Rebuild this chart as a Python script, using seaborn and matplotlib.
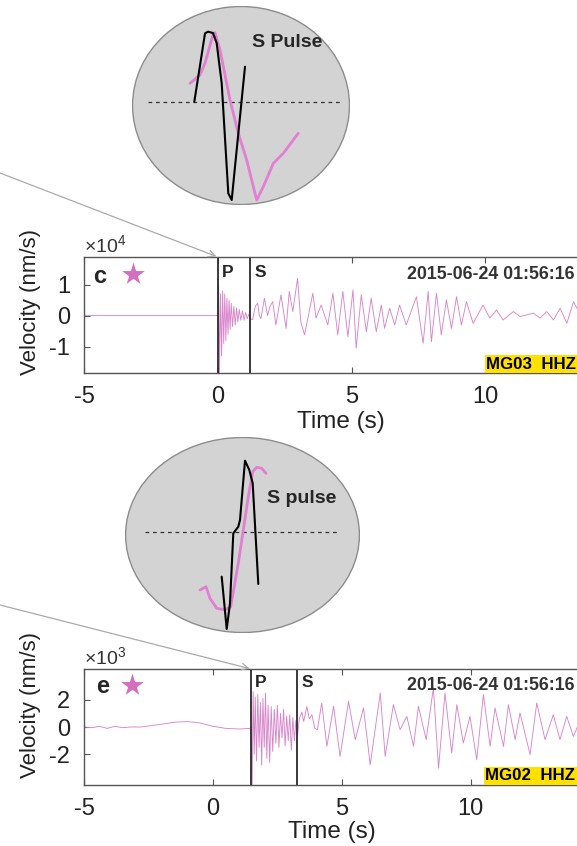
import pandas as pd
import seaborn as sns
import matplotlib.pyplot as plt
from matplotlib.patches import Ellipse

# ---- waveform extrema ----------------------------------------------------
# panel c, MG03 HHZ, velocity in units of 1e4 nm/s
c_time = [-5.0, -3.0, -1.0, -0.02,
          0.0, 0.03, 0.06, 0.1, 0.14, 0.18, 0.22, 0.26, 0.3, 0.34, 0.38, 0.42,
          0.46, 0.5, 0.55, 0.6, 0.65, 0.7, 0.75, 0.8, 0.86, 0.92, 0.98, 1.04,
          1.1, 1.16,
          1.22, 1.3, 1.4, 1.49, 1.55, 1.61, 1.74, 1.86, 1.95, 2.05, 2.17, 2.36,
          2.55, 2.67, 2.8, 2.98, 3.1, 3.24, 3.55, 3.67, 3.86, 4.11, 4.30, 4.48,
          4.67, 4.86, 5.05, 5.17, 5.36, 5.55, 5.73, 5.92, 6.11, 6.23, 6.42,
          6.61, 6.79, 7.04, 7.42, 7.67, 7.86, 7.98, 8.17, 8.35, 8.54, 8.73,
          8.92, 9.10, 9.29, 9.54, 9.91, 10.16, 10.41, 10.66, 11.04, 11.29,
          11.79, 12.04, 12.29, 12.54, 12.79, 13.04, 13.29, 13.5]
c_vel = [0.0, 0.0, 0.0, 0.0,
         0.0, 1.0, -1.9, 0.7, -1.3, 0.8, -0.9, 0.7, -0.8, 0.55, -0.6, 0.5,
         -0.45, 0.4, -0.35, 0.3, -0.3, 0.25, -0.2, 0.2, -0.15, 0.15, -0.15, 0.1,
         -0.1, 0.05,
         -0.1, -0.13, 0.3, 0.4, 0.0, -0.1, 0.56, 0.0, 0.3, 0.45, -0.3, 0.67,
         -0.41, 0.78, 0.13, 1.2, -0.2, -0.62, 0.72, -0.08, 0.34, -0.3, 0.72, -0.62,
         0.78, -0.68, 0.83, -1.05, 0.67, -0.52, 0.56, -0.52, 0.34, -0.41, 0.24,
         -0.3, 0.34, -0.3, 0.61, -0.89, 0.78, -0.84, 0.72, -0.62, 0.51, -0.41,
         0.61, -0.3, 0.45, -0.25, 0.34, -0.08, 0.18, -0.14, 0.13, -0.03,
         0.08, -0.08, 0.13, -0.14, 0.24, -0.25, 0.45, 0.1]

# panel e, MG02 HHZ, velocity in units of 1e3 nm/s
e_time = [-5.0, -4.7, -4.4, -4.1, -3.8, -3.5, -3.2, -2.8, -2.4, -2.0, -1.5,
          -1.0, -0.5, 0.0, 0.5, 1.0, 1.45,
          1.48, 1.52, 1.56, 1.6, 1.64, 1.69, 1.74, 1.79, 1.84, 1.89, 1.94, 1.99,
          2.04, 2.09, 2.14, 2.2, 2.26, 2.32, 2.38, 2.44, 2.5, 2.56, 2.62, 2.68,
          2.74, 2.8, 2.86, 2.92, 2.98, 3.04, 3.1, 3.16, 3.22, 3.28,
          3.35, 3.45, 3.52, 3.64, 3.74, 3.84, 3.95, 4.05, 4.22, 4.42, 4.68, 4.93,
          5.26, 5.52, 5.84, 6.1, 6.49, 6.68, 7.0, 7.26, 7.52, 7.78, 7.97, 8.27,
          8.55, 8.75, 9.0, 9.26, 9.46, 9.71, 9.97, 10.23, 10.49, 10.75, 10.94,
          11.27, 11.46, 11.72, 11.91, 12.3, 12.56, 12.88, 13.2, 13.46, 13.72,
          13.98, 14.2]
e_vel = [0.0, -0.05, 0.05, -0.1, 0.05, -0.05, 0.0, 0.0, 0.1, 0.2, 0.35,
         0.4, 0.3, 0.05, -0.1, -0.15, -0.1,
         0.0, -4.5, 2.6, -2.0, 2.2, -2.5, 2.4, -1.5, 1.8, -2.8, 2.1, -1.5,
         2.5, -2.3, 1.6, -2.6, 1.5, -1.8, 1.3, -1.2, 1.6, -1.5, 1.0, -0.8,
         1.3, -1.4, 0.8, -1.0, 0.9, -1.7, 0.7, -1.0, 0.5, -0.6,
         0.6, 1.1, 0.4, 1.5, 0.6, 0.9, -0.1, -0.2, 1.77, -1.42, 1.52, -2.16,
         1.89, -0.93, 1.4, -2.77, 2.5, -2.16, 1.64, -0.2, 0.78, -1.42, 1.52, -0.93,
         2.87, -3.02, 2.5, -1.91, 1.64, -1.18, 0.78, -2.4, 2.38, -1.42, 1.4,
         -1.42, 1.64, -0.93, 1.03, -2.03, 1.77, -0.93, 0.9, -0.93, 0.78,
         -0.69, 0.3]

c_picks = [0.0, 1.22]   # P, S
e_picks = [1.48, 3.28]

# ---- S pulse close-ups (normalised time / amplitude) ----------------------
top_black_t = [-0.467, -0.417, -0.36, -0.33, -0.28, -0.243, -0.193, -0.143,
               -0.127, -0.093, -0.06, -0.01, 0.04]
top_black_v = [0.0, 0.317, 0.684, 0.70, 0.687, 0.584, 0.184, -0.65,
               -0.916, -0.983, -0.65, -0.15, 0.35]
top_pink_t = [-0.51, -0.41, -0.36, -0.277, -0.26, -0.21, -0.11, -0.027,
              0.057, 0.157, 0.223, 0.323, 0.423, 0.573]
top_pink_v = [0.184, 0.267, 0.384, 0.684, 0.69, 0.517, 0.017, -0.316,
              -0.583, -0.983, -0.85, -0.616, -0.516, -0.316]

bot_black_t = [-0.208, -0.158, -0.125, -0.092, -0.042, -0.025, 0.025, 0.068,
               0.102, 0.158]
bot_black_v = [-0.45, -0.973, -0.716, -0.016, 0.05, 0.117, 0.71, 0.617,
               0.484, -0.523]
bot_pink_t = [-0.425, -0.365, -0.325, -0.258, -0.175, -0.118, -0.042, 0.008,
              0.058, 0.102, 0.142, 0.192, 0.235]
bot_pink_v = [-0.583, -0.55, -0.666, -0.766, -0.783, -0.75, -0.316, 0.017,
              0.35, 0.6, 0.644, 0.634, 0.584]

trace_col = '#d985cb'
star_col = '#d46fc0'
pulse_col = '#e27fd3'
spine_col = '#555555'

sns.set_theme(style='ticks')
plt.rcParams['font.family'] = ['Liberation Sans', 'DejaVu Sans']
plt.rcParams['axes.unicode_minus'] = False
plt.rcParams['mathtext.fontset'] = 'custom'
plt.rcParams['mathtext.rm'] = 'Liberation Sans'

W, H = 577, 846
fig = plt.figure(figsize=(W / 100, H / 100), dpi=100)


def px_axes(x0, y0, x1, y1):
    return fig.add_axes([x0 / W, 1 - y1 / H, (x1 - x0) / W, (y1 - y0) / H])


def seismo(ax, t, v, power, picks, xmax, ylim, yticks, letter, station,
           ylab_y, src_y, tag_pos):
    df = pd.DataFrame({'t': t, 'v': v})
    sns.lineplot(data=df, x='t', y='v', ax=ax, color=trace_col, lw=0.65,
                 estimator=None, sort=False)
    for p in picks:
        ax.axvline(p, color='#2a2a2a', lw=1.3)
    ax.set_xlim(-5, xmax)
    ax.set_ylim(*ylim)
    ax.set_xticks([-5, 0, 5, 10])
    ax.set_yticks(yticks)
    ax.text(0.0, 1.01, r'$\times\mathregular{10^{%d}}$' % power,
            transform=ax.transAxes, ha='left', va='bottom', fontsize=14,
            color='#333333')
    for s in ['left', 'top', 'bottom']:
        ax.spines[s].set_color(spine_col)
        ax.spines[s].set_linewidth(1.0)
    ax.spines['right'].set_visible(False)
    ax.tick_params(direction='in', length=4, width=0.8, color=spine_col,
                   labelsize=17, labelcolor='#222222', top=True)
    ax.tick_params(axis='x', pad=9)
    ax.tick_params(axis='y', pad=10)
    ax.set_xlabel('Time (s)', fontsize=17.5, color='#222222')
    ax.set_ylabel('Velocity (nm/s)', fontsize=16, color='#222222')
    ax.xaxis.set_label_coords(tag_pos[0], tag_pos[1])
    ax.yaxis.set_label_coords(-0.088, ylab_y)

    ax.text(letter[1], letter[2], letter[0], transform=ax.transAxes,
            fontsize=17, fontweight='bold', ha='center', va='center')
    ax.plot([letter[3]], [letter[4]], marker='*', ms=20, color=star_col,
            mec='white', mew=0.8, transform=ax.transAxes, clip_on=False)
    for p, lab in zip(picks, ['P', 'S']):
        ax.annotate(lab, xy=(p, letter[5]), xycoords=('data', 'axes fraction'),
                    xytext=(3, 0), textcoords='offset points', fontsize=12.5,
                    fontweight='bold', ha='left', va='center')
    ax.text(0.655, letter[5] - 0.02, '2015-06-24 01:56:16',
            transform=ax.transAxes, fontsize=12.8, fontweight='bold',
            color='#333333', ha='left', va='center')
    ax.text(station[1], station[2], station[0], transform=ax.transAxes,
            fontsize=12.2, fontweight='bold', color='black', ha='left',
            va='center', bbox=dict(boxstyle='square,pad=0.1', fc='#ffe100',
                                   ec='none'))
    ax.annotate('', xy=(picks[0], ylim[1]), xycoords='data',
                xytext=(0, 1 - src_y / H), textcoords='figure fraction',
                arrowprops=dict(arrowstyle='->', color='#aaaaaa', lw=0.9,
                                shrinkA=0, shrinkB=1),
                annotation_clip=False)


ax_c = px_axes(84, 257, 577, 373)
seismo(ax_c, c_time, c_vel, 4, c_picks, 13.42, (-1.85, 1.89), [-1, 0, 1],
       ('c', 0.031, 0.828, 0.0994, 0.853, 0.87), ('MG03  HHZ', 0.816, 0.075),
       0.612, 173, (0.522, -0.33))

ax_e = px_axes(84, 669, 577, 785)
seismo(ax_e, e_time, e_vel, 3, e_picks, 14.12, (-4.26, 4.26), [-2, 0, 2],
       ('e', 0.0385, 0.845, 0.0968, 0.862, 0.882), ('MG02  HHZ', 0.814, 0.078),
       0.69, 605, (0.503, -0.31))


def pulse_inset(box, xlim, ylim, dash, bt, bv, pt, pv, label, lab_xy):
    ax = px_axes(*box)
    ax.set_axis_off()
    ax.add_patch(Ellipse((0.5, 0.5), 0.995, 0.995, transform=ax.transAxes,
                         fc='#d3d3d3', ec='#8c8c8c', lw=1.0))
    ax.plot(dash, [0, 0], color='#333333', lw=0.9, ls=(0, (3, 3)))
    sns.lineplot(x=pt, y=pv, ax=ax, color=pulse_col, lw=2.0, estimator=None,
                 sort=False)
    sns.lineplot(x=bt, y=bv, ax=ax, color='black', lw=1.5, estimator=None,
                 sort=False)
    ax.set_xlim(*xlim)
    ax.set_ylim(*ylim)
    ax.text(lab_xy[0], lab_xy[1], label, fontsize=14, fontweight='bold',
            ha='left', va='center')


pulse_inset((132, 6, 350, 205), (-1.09, 1.09), (-1.033, 0.957), [-0.93, 0.99],
            top_black_t, top_black_v, top_pink_t, top_pink_v, 'S Pulse',
            (0.11, 0.587))
pulse_inset((125, 437, 360, 633), (-1.175, 1.175), (-1.013, 0.947),
            [-0.975, 0.955], bot_black_t, bot_black_v, bot_pink_t, bot_pink_v,
            'S pulse', (0.242, 0.334))

fig.savefig('out.png', dpi=100)
